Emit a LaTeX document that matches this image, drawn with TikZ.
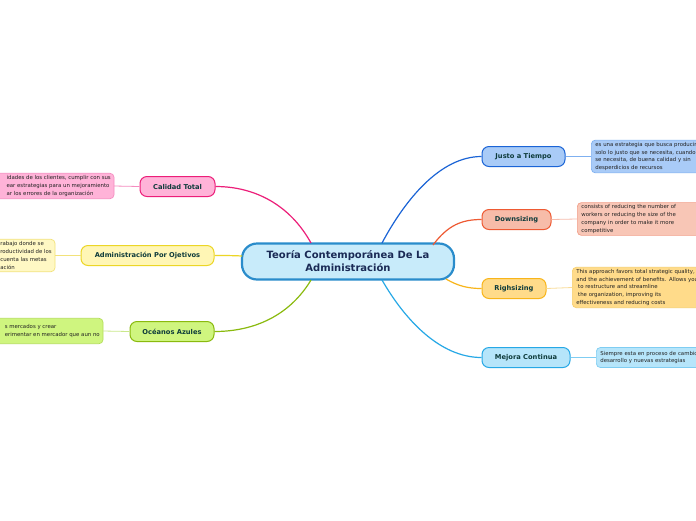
\documentclass[tikz,border=0pt]{standalone}
\usepackage{fontspec}
\setmainfont{DejaVu Sans}
\pgfdeclarelayer{bglayer}
\pgfdeclarelayer{boxlayer}
\pgfsetlayers{bglayer,boxlayer,main}
\definecolor{cfill}{HTML}{C8EBFA}\definecolor{cline}{HTML}{2A8CCB}
\definecolor{jfill}{HTML}{A9CBF7}\definecolor{jline}{HTML}{1B64D6}\definecolor{jleaf}{HTML}{7FB0F0}
\definecolor{dfill}{HTML}{F7BCA9}\definecolor{dline}{HTML}{EE5A33}\definecolor{dleaf}{HTML}{F2A08A}
\definecolor{rfill}{HTML}{FFDB8A}\definecolor{rline}{HTML}{F8B51A}\definecolor{rleaf}{HTML}{F7CF6E}
\definecolor{mfill}{HTML}{B6E5FA}\definecolor{mline}{HTML}{26A8E6}\definecolor{mleaf}{HTML}{7FCDF2}
\definecolor{kfill}{HTML}{FFB3D8}\definecolor{kline}{HTML}{EC1E79}\definecolor{kleaf}{HTML}{F58CC0}
\definecolor{afill}{HTML}{FFF6B5}\definecolor{aline}{HTML}{ECD626}\definecolor{aleaf}{HTML}{F2E27A}
\definecolor{ofill}{HTML}{CFF57F}\definecolor{oline}{HTML}{8ABA0E}\definecolor{oleaf}{HTML}{B4DE5A}
\definecolor{btext}{HTML}{0E3B3B}\definecolor{ctext}{HTML}{1A2A55}\definecolor{ltext}{HTML}{222222}
\begin{document}
\begin{tikzpicture}[x=1pt,y=-1pt,
  branch/.style={draw, line width=1pt, rounded corners=7pt, minimum height=20pt, inner xsep=8pt, inner ysep=0pt,
     font=\fontsize{6.7}{7.5}\selectfont\bfseries, text=btext},
  leafr/.style={draw, line width=0.7pt, rounded corners=4pt, anchor=west, inner xsep=4pt, inner ysep=2.2pt,
     text width=130pt, align=left, font=\fontsize{5.4}{7.7}\selectfont, text=ltext},
  leafl/.style={anchor=east, inner xsep=3pt, inner ysep=2.2pt,
     align=left, font=\fontsize{5.4}{7.7}\selectfont, text=ltext},
  leafbox/.style={line width=0.7pt, rounded corners=4pt},
  conn/.style={line width=1.2pt},
  lconn/.style={line width=0.8pt}]
\path[use as bounding box] (0,0) rectangle (696,520);
\clip (0,0) rectangle (696,520);
\begin{pgfonlayer}{bglayer}
\fill[white] (0,0) rectangle (696,520);
\end{pgfonlayer}

% central
\node[draw=cline, fill=cfill, line width=2.2pt, rounded corners=15pt, minimum width=212pt, minimum height=36pt,
  align=center, font=\fontsize{10}{13}\selectfont\bfseries, text=ctext, inner sep=2pt] (c) at (348,261.5)
  {Teoría Contemporánea De La\\Administración};

\coordinate (sj) at (382,243);
\coordinate (sd) at (433,245);
\coordinate (sr) at (446,279);
\coordinate (sm) at (382,280);
\coordinate (sk) at (311,243);
\coordinate (sa) at (242,256);
\coordinate (so) at (311,280);

% branch nodes
\node[branch, draw=jline, fill=jfill, minimum width=83pt] (j) at (523.5,156.5) {Justo a Tiempo};
\node[branch, draw=dline, fill=dfill, minimum width=69pt] (d) at (516.5,219.5) {Downsizing};
\node[branch, draw=rline, fill=rfill, minimum width=64pt] (r) at (514,288.5) {Righsizing};
\node[branch, draw=mline, fill=mfill, minimum width=88pt] (m) at (526,357.5) {Mejora Continua};
\node[branch, draw=kline, fill=kfill, minimum width=75pt] (k) at (177.5,186.5) {Calidad Total};
\node[branch, draw=aline, fill=afill, minimum width=133pt] (a) at (147.5,255.5) {Administración Por Ojetivos};
\node[branch, draw=oline, fill=ofill, minimum width=84pt] (o) at (172,331.5) {Océanos Azules};

% main connectors
\draw[conn, jline] (sj) .. controls (405,200) and (440,156.5) .. (j.west);
\draw[conn, dline] (sd) .. controls (448,225) and (462,219.5) .. (d.west);
\draw[conn, rline] (sr) .. controls (458,286) and (468,288.5) .. (r.west);
\draw[conn, mline] (sm) .. controls (405,320) and (440,357.5) .. (m.west);
\draw[conn, kline] (sk) .. controls (290,205) and (255,186.5) .. (k.east);
\draw[conn, aline] (sa) .. controls (232,255.5) and (224,255.5) .. (a.east);
\draw[conn, oline] (so) .. controls (290,315) and (255,331.5) .. (o.east);

% leaves right
\node[leafr, draw=jleaf, fill=jfill] (jl) at (591,156.5)
 {es una estrategia que busca producir\\solo lo justo que se necesita, cuando\\se necesita, de buena calidad y sin\\desperdicios de recursos};
\node[leafr, draw=dleaf, fill=dfill!85!white] (dl) at (577,219)
 {consists of reducing the number of\\workers or reducing the size of the\\company in order to make it more\\competitive};
\node[leafr, draw=rleaf, fill=rfill, minimum height=38pt] (rl) at (572,287.5)
 {This approach favors total strategic quality,\\and the achievement of benefits. Allows you\\\ to restructure and streamline\\\ the organization, improving its\\effectiveness and reducing costs};
\node[leafr, draw=mleaf, fill=mfill, minimum height=20pt] (ml) at (596,357.5)
 {Siempre esta en proceso de cambio\\desarrollo y nuevas estrategias};

% leaves left (text nodes; boxes drawn behind, running off the left edge)
\node[leafl, minimum height=25pt] (kl) at (114,186)
 {idades de los clientes, cumplir con sus\\ear estrategias para un mejoramiento\\ar los errores de la organización};
\node[leafl, minimum height=32pt] (al) at (55,255.5)
 {rabajo donde se\\roductividad de los\\cuenta las metas\\ación};
\node[leafl, minimum height=25pt] (ol) at (103,331)
 {s mercados y crear\\erimentar en mercador que aun no};
\begin{pgfonlayer}{boxlayer}
\draw[leafbox, draw=kleaf, fill=kfill] (-30,0 |- kl.north) rectangle (kl.south east);
\draw[leafbox, draw=aleaf, fill=afill!80!white] (-30,0 |- al.north) rectangle (al.south east);
\draw[leafbox, draw=oleaf, fill=ofill] (-30,0 |- ol.north) rectangle (ol.south east);
\end{pgfonlayer}

% leaf connectors
\draw[lconn, jleaf] (j.east) -- (jl.west);
\draw[lconn, dleaf!70!white] (d.east) -- (dl.west);
\draw[lconn, rleaf!70!white] (r.east) -- (rl.west);
\draw[lconn, mleaf] (m.east) -- (ml.west);
\draw[lconn, kleaf] (k.west) -- (kl.east);
\draw[lconn, aleaf] (a.west) -- (al.east);
\draw[lconn, oleaf!70!white] (o.west) -- (ol.east);
\end{tikzpicture}
\end{document}
